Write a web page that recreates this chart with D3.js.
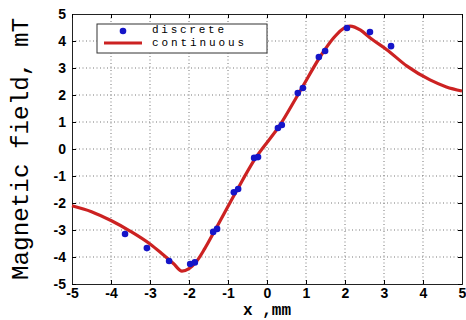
<!DOCTYPE html>
<html>
<head>
<meta charset="utf-8">
<script src="https://cdn.jsdelivr.net/npm/d3@7"></script>
<style>
  body { margin: 0; background: #fff; }
  .tick text { font-family: "Liberation Sans", Arial, sans-serif; font-weight: bold; font-size: 14px; }
</style>
</head>
<body>
<div id="chart"></div>
<script>
// discrete measurements
var discreteX = [-3.64, -3.08, -2.51, -1.97, -1.85, -1.38, -1.28, -0.85, -0.74, -0.33, -0.23, 0.28, 0.38, 0.79, 0.92, 1.33, 1.49, 2.05, 2.64, 3.18];
var discreteY = [-3.15, -3.67, -4.15, -4.26, -4.2, -3.07, -2.96, -1.6, -1.48, -0.33, -0.3, 0.78, 0.89, 2.07, 2.26, 3.41, 3.63, 4.48, 4.33, 3.81];

// continuous curve
var curveX = [-5, -4.5, -4, -3.5, -3, -2.7, -2.4, -2.18, -2, -1.8, -1.6, -1.33, -0.8, -0.3, 0.33, 0.85, 1.4, 1.7, 1.9, 2.13, 2.4, 2.64, 3.08, 3.59, 4.18, 4.6, 5];
var curveY = [-2.1, -2.32, -2.65, -3.05, -3.52, -3.87, -4.24, -4.52, -4.43, -4.15, -3.7, -3.0, -1.6, -0.35, 0.88, 2.15, 3.5, 4.1, 4.4, 4.55, 4.4, 4.12, 3.67, 3.07, 2.56, 2.3, 2.15];

var tickVals = [-5, -4, -3, -2, -1, 0, 1, 2, 3, 4, 5];

var margin = {top: 14, right: 4, bottom: 36, left: 72},
    width = 466 - margin.left - margin.right,
    height = 320 - margin.top - margin.bottom;

var svg = d3.select("#chart")
  .append("svg")
    .attr("width", 466)
    .attr("height", 320)
  .append("g")
    .attr("transform", "translate(" + margin.left + "," + margin.top + ")");

var x = d3.scaleLinear().domain([-5, 5]).range([0, width]);
var y = d3.scaleLinear().domain([-5, 5]).range([height, 0]);

// grid
svg.append("g")
  .selectAll("line")
  .data(tickVals.slice(1, -1))
  .enter().append("line")
    .attr("x1", function(d) { return x(d); })
    .attr("x2", function(d) { return x(d); })
    .attr("y1", 0).attr("y2", height)
    .attr("stroke", "#777").attr("stroke-dasharray", "1,2.5");
svg.append("g")
  .selectAll("line")
  .data(tickVals.slice(1, -1))
  .enter().append("line")
    .attr("y1", function(d) { return y(d); })
    .attr("y2", function(d) { return y(d); })
    .attr("x1", 0).attr("x2", width)
    .attr("stroke", "#777").attr("stroke-dasharray", "1,2.5");

var fmt = function(d) { return d < 0 ? "-" + Math.abs(d) : d; };

// axes
var xAxis = svg.append("g")
  .attr("transform", "translate(0," + height + ")")
  .call(d3.axisBottom(x).tickValues(tickVals).tickSize(-4).tickPadding(4).tickFormat(fmt));
var yAxis = svg.append("g")
  .call(d3.axisLeft(y).tickValues(tickVals).tickSize(-4).tickPadding(6).tickFormat(fmt));
svg.append("g").attr("transform", "translate(" + width + ",0)")
  .call(d3.axisRight(y).tickValues(tickVals).tickSize(-4).tickFormat(""));
svg.append("g")
  .call(d3.axisTop(x).tickValues(tickVals).tickSize(-4).tickFormat(""));
svg.selectAll(".domain").attr("stroke", "#222");

// continuous line
var curveData = curveX.map(function(d, i) { return {x: d, y: curveY[i]}; });
svg.append("path")
  .datum(curveData)
  .attr("fill", "none")
  .attr("stroke", "#cc2222")
  .attr("stroke-width", 3.2)
  .attr("d", d3.line()
    .curve(d3.curveMonotoneX)
    .x(function(d) { return x(d.x); })
    .y(function(d) { return y(d.y); }));

// discrete points
svg.selectAll("circle.pt")
  .data(discreteX.map(function(d, i) { return {x: d, y: discreteY[i]}; }))
  .enter().append("circle")
    .attr("class", "pt")
    .attr("cx", function(d) { return x(d.x); })
    .attr("cy", function(d) { return y(d.y); })
    .attr("r", 3.3)
    .attr("fill", "#1515c8");

// legend
var legend = svg.append("g").attr("transform", "translate(25,10)");
legend.append("rect")
  .attr("width", 170).attr("height", 29)
  .attr("fill", "#fff").attr("stroke", "#333");
legend.append("circle").attr("cx", 26).attr("cy", 7).attr("r", 3.3).attr("fill", "#1515c8");
legend.append("line").attr("x1", 7).attr("x2", 45).attr("y1", 19).attr("y2", 19)
  .attr("stroke", "#cc2222").attr("stroke-width", 3.2);
legend.append("text").attr("x", 55).attr("y", 9).text("discrete")
  .attr("textLength", 72).attr("lengthAdjust", "spacing")
  .style("font-family", "Liberation Mono, monospace").style("font-size", "11px");
legend.append("text").attr("x", 55).attr("y", 22).text("continuous")
  .attr("textLength", 92).attr("lengthAdjust", "spacing")
  .style("font-family", "Liberation Mono, monospace").style("font-size", "11px");

// labels
svg.append("text")
  .attr("x", x(0)).attr("y", height + 31)
  .attr("text-anchor", "middle")
  .style("font-family", "Liberation Mono, monospace").style("font-weight", "bold").style("font-size", "16px")
  .text("x ,mm");
svg.append("text")
  .attr("transform", "translate(" + (-44) + "," + (height / 2) + ") rotate(-90)")
  .attr("text-anchor", "middle")
  .attr("textLength", 262).attr("lengthAdjust", "spacingAndGlyphs")
  .style("font-family", "Liberation Mono, monospace").style("font-size", "23px")
  .text("Magnetic field, mT");
</script>
</body>
</html>
